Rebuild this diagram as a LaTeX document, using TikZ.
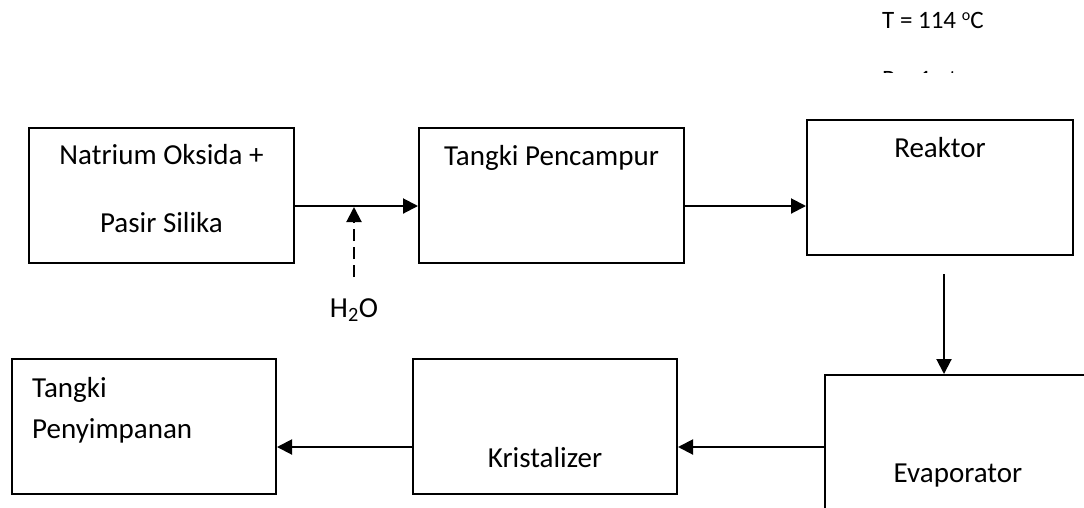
\documentclass[tikz,border=0pt]{standalone}
\usepackage{fontspec}
\setmainfont{Carlito}
\usetikzlibrary{arrows.meta,positioning,calc}

\begin{document}
\begin{tikzpicture}[
  x=1pt, y=-1pt,
  box/.style={draw=black, line width=2pt, inner sep=0pt, minimum width=265pt, minimum height=135pt},
  lbl/.style={font=\fontsize{29}{35}\selectfont, inner sep=0pt, anchor=base},
  note/.style={font=\fontsize{25}{30}\selectfont, inner sep=0pt, anchor=base west},
  arrow/.style={-{Triangle[length=15pt,width=15pt]}, line width=2pt, draw=black}
]
\clip (0,0) rectangle (1084,507);
% conditions
\node[note] (suhu) at (882,28) {T = 114 \raisebox{0.32em}{\fontsize{16}{16}\selectfont o}C};
\begin{scope}
  \clip (0,0) rectangle (1084,72.5);
  \node[note] (tekanan) at (882,87.5) {P = 1 atm};
\end{scope}
% upper row
\node[box] (natrium) at (161.5,195.5) {};
\node[lbl] (natriumA) at ([yshift=-37pt]natrium.north) {Natrium Oksida +};
\node[lbl] (natriumB) at ([yshift=-105pt]natrium.north) {Pasir Silika};
\node[box] (pencampur) at (551.5,195.5) {};
\node[lbl] (pencampurtxt) at ([yshift=-38pt]pencampur.north) {Tangki Pencampur};
\node[box, minimum width=266pt] (reaktor) at (940,187.5) {};
\node[lbl] (reaktortxt) at ([yshift=-38pt]reaktor.north) {Reaktor};
% lower row
\node[box, minimum width=275pt, minimum height=144pt] (evaporator) at (962.5,447) {};
\node[lbl] (evaporatortxt) at ([xshift=134pt,yshift=-35pt]evaporator.west) {Evaporator};
\node[box, minimum width=264pt] (kristalizer) at (545,426.5) {};
\node[lbl] (kristalizertxt) at ([yshift=28pt]kristalizer.south) {Kristalizer};
\node[box, minimum width=264pt] (penyimpanan) at (144,426) {};
\node[lbl, anchor=base west] (penyimpananA) at ([xshift=21pt,yshift=-39.5pt]penyimpanan.north west) {Tangki};
\node[lbl, anchor=base west] (penyimpananB) at ([xshift=21pt,yshift=-80.5pt]penyimpanan.north west) {Penyimpanan};
% water feed
\node[lbl] (air) at (354,317) {H\textsubscript{2}O};
% streams
\coordinate (feedA) at ([yshift=-10.5pt]natrium.east);
\coordinate (feedB) at ([yshift=-10.5pt]pencampur.east);
\coordinate (feedC) at ([xshift=4pt,yshift=-18pt]reaktor.south);
\coordinate (feedD) at ([yshift=-20.5pt]kristalizer.west);
\coordinate (airtop) at ([yshift=40pt]air.base);
\draw[arrow] (feedA) -- (feedA -| pencampur.west);
\draw[arrow] (feedB) -- (feedB -| reaktor.west);
\draw[arrow] (feedC) -- (feedC |- evaporator.north);
\draw[arrow] (evaporator.west) -- (evaporator.west -| kristalizer.east);
\draw[arrow] (feedD) -- (feedD -| penyimpanan.east);
\draw[arrow, dash pattern=on 12pt off 6pt] (airtop) -- ([yshift=-1pt]airtop |- feedA);
\end{tikzpicture}
\end{document}
